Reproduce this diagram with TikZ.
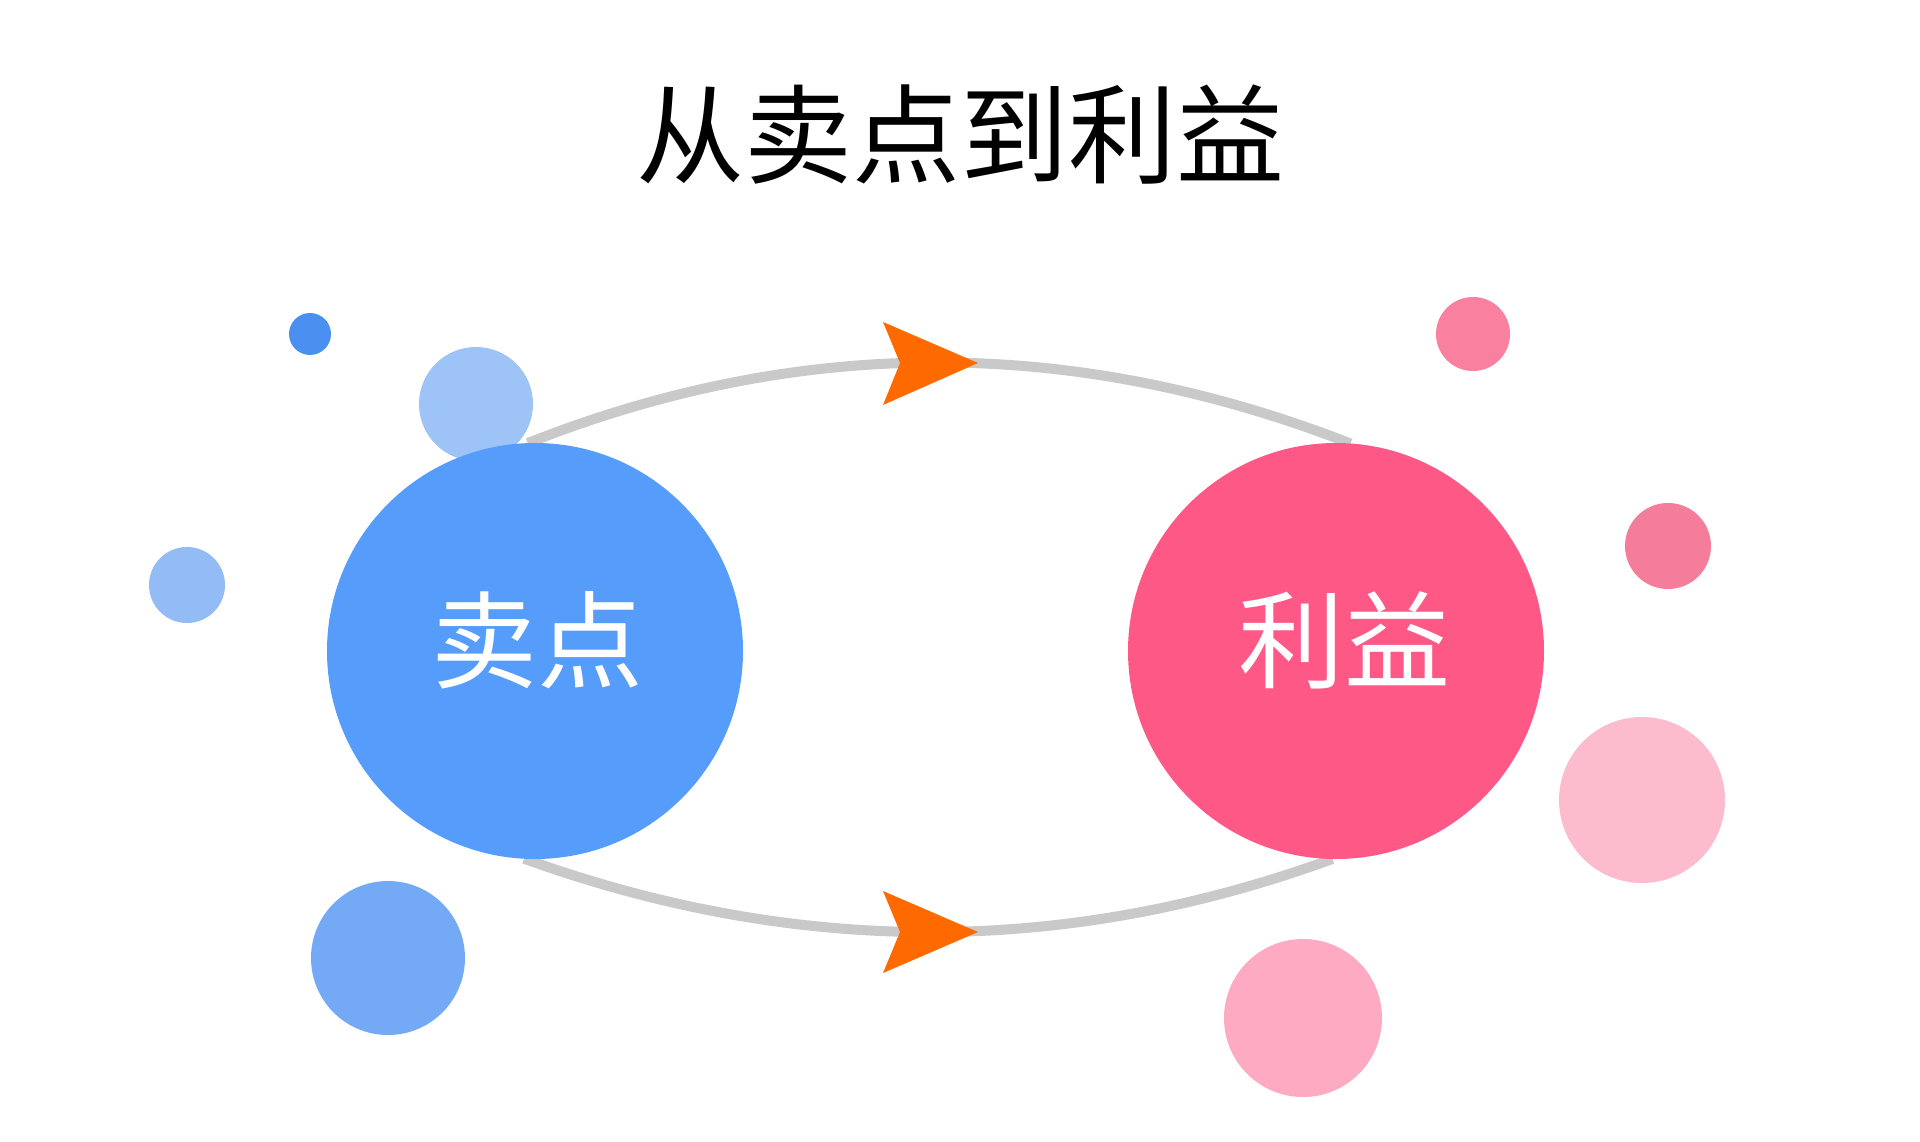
\documentclass[tikz,border=0pt]{standalone}
\usepackage{fontspec}
\newfontfamily\cjk{Noto Sans CJK SC}
\usetikzlibrary{backgrounds}
\definecolor{bigblue}{HTML}{569CFA}
\definecolor{bigpink}{HTML}{FE5887}
\definecolor{linkgray}{HTML}{C9C9C9}
\definecolor{tiporange}{HTML}{FF6A00}
\definecolor{bA}{HTML}{4A90F0}
\definecolor{bB}{HTML}{9EC3F7}
\definecolor{bC}{HTML}{93BCF7}
\definecolor{bD}{HTML}{74A9F6}
\definecolor{pA}{HTML}{F9819F}
\definecolor{pB}{HTML}{F47D9C}
\definecolor{pC}{HTML}{FDBCCD}
\definecolor{pD}{HTML}{FDAAC2}
\begin{document}
\begin{tikzpicture}[x=1pt,y=-1pt,
  bubble/.style={circle, inner sep=0pt, outer sep=0pt, draw=none},
  link/.style={draw=linkgray, line width=10pt},
  tiphead/.style={fill=tiporange, draw=none},
  bigtext/.style={text=white, font=\cjk\fontsize{106}{110}\selectfont, inner sep=0pt}]
\useasboundingbox (0,0) rectangle (1920,1142);
\begin{scope}[on background layer]
  \fill[white] (0,0) rectangle (1920,1142);
\end{scope}
% title
\node[font=\cjk\fontsize{108}{120}\selectfont, inner sep=0pt] (title) at (960,135) {从卖点到利益};
% small bubbles
\node[bubble, minimum size=42pt, fill=bA] (b1) at (310,334) {};
\node[bubble, minimum size=114pt, fill=bB] (b2) at (476,404) {};
\node[bubble, minimum size=76pt, fill=bC] (b3) at (187,585) {};
\node[bubble, minimum size=154pt, fill=bD] (b4) at (388,958) {};
\node[bubble, minimum size=74pt, fill=pA] (p1) at (1473,334) {};
\node[bubble, minimum size=86pt, fill=pB] (p2) at (1668,546) {};
\node[bubble, minimum size=166pt, fill=pC] (p3) at (1642,800) {};
\node[bubble, minimum size=158pt, fill=pD] (p4) at (1303,1018) {};
% big circles
\node[bubble, minimum size=416pt, fill=bigblue] (sell) at (535,651) {};
\node[bubble, minimum size=416pt, fill=bigpink] (benefit) at (1336,651) {};
\node[bigtext] (selltext) at (537,640) {卖点};
\node[bigtext] (benefittext) at (1344,640) {利益};
% connectors
\begin{scope}[on background layer]
  \draw[link] (sell.92) .. controls (801,335) and (1075,336) .. (benefit.86);
  \draw[link] (sell.-93) .. controls (794,956) and (1064,957) .. (benefit.-91);
\end{scope}
% arrowheads
\fill[tiphead] (883,322) -- (978,363) -- (883,405) -- (900,363) -- cycle;
\fill[tiphead] (883,891) -- (978,932) -- (883,973) -- (900,932) -- cycle;
\end{tikzpicture}
\end{document}
